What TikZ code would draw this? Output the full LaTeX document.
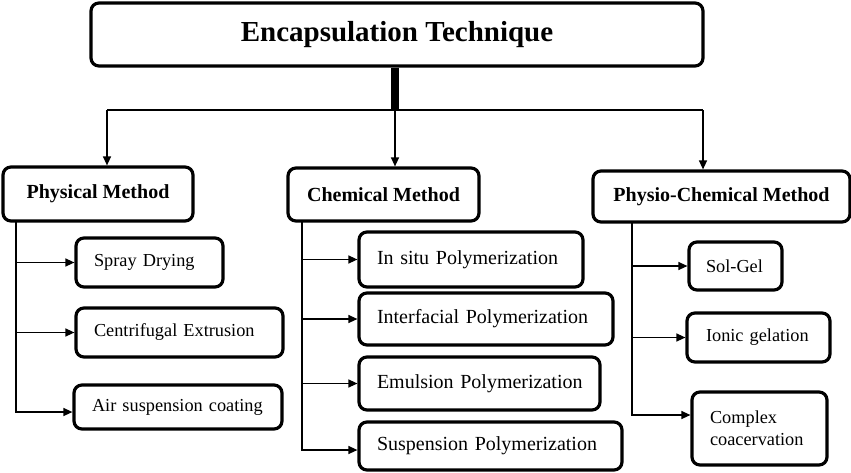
\documentclass[tikz,border=0pt]{standalone}
\usepackage{fontspec}
\setmainfont{Liberation Serif}
\usetikzlibrary{arrows.meta}
\begin{document}
\begin{tikzpicture}[x=1pt,y=-1pt,
  box/.style={draw, line width=3.2pt, rounded corners=8pt, inner sep=0pt},
  titlebox/.style={box, font=\fontsize{29}{33}\selectfont\bfseries},
  headbox/.style={box, font=\fontsize{20}{24}\selectfont\bfseries, align=center},
  subbox/.style={box, font=\fontsize{18.3}{22}\selectfont, align=left, inner xsep=18pt},
  chembox/.style={box, font=\fontsize{20}{24}\selectfont, align=left, inner xsep=18pt},
  conn/.style={line width=1.3pt},
  arr/.style={conn, -{Triangle[length=9pt,width=8pt]}}]
\useasboundingbox (0,0) rectangle (851,472);
\fill[white] (0,0) rectangle (851,472);

% title
\node[titlebox, minimum width=612pt, minimum height=63pt] (top) at (397,34.5) {Encapsulation Technique};

% headings
\node[headbox, minimum width=190pt, minimum height=54pt] (phys) at (98,194) {Physical Method};
\node[headbox, minimum width=191pt, minimum height=53pt] (chem) at (383.5,194.5) {Chemical Method};
\node[headbox, minimum width=257pt, minimum height=51pt] (physio) at (721.5,196.5) {Physio-Chemical Method};

% physical subs
\node[subbox, minimum width=147pt, minimum height=49pt, text width=111pt] (spray) at (149.5,262.5) {\mbox{Spray Drying}};
\node[subbox, minimum width=207pt, minimum height=49pt, text width=171pt] (centri) at (179.5,332.5) {\mbox{Centrifugal Extrusion}};
\node[subbox, minimum width=208pt, minimum height=44pt, text width=172pt] (air) at (178,407) {\mbox{Air suspension coating}};

% chemical subs
\node[chembox, minimum width=224pt, minimum height=55pt, text width=188pt] (insitu) at (471,259.5) {\mbox{In situ Polymerization}};
\node[chembox, minimum width=254pt, minimum height=52pt, text width=218pt] (interf) at (486,319) {\mbox{Interfacial Polymerization}};
\node[chembox, minimum width=241pt, minimum height=53pt, text width=205pt] (emul) at (479.5,383.5) {\mbox{Emulsion Polymerization}};
\node[chembox, minimum width=263pt, minimum height=48pt, text width=227pt] (susp) at (490.5,446) {\mbox{Suspension Polymerization}};

% physio-chemical subs
\node[subbox, inner xsep=17pt, minimum width=93pt, minimum height=48pt, text width=59pt] (solgel) at (735.5,266) {\mbox{Sol-Gel}};
\node[subbox, inner xsep=19pt, minimum width=143pt, minimum height=49pt, text width=105pt] (ionic) at (758.5,337.5) {\mbox{Ionic gelation}};
\node[subbox, minimum width=135pt, minimum height=73pt, text width=99pt] (complex) at (759.5,428.5) {\mbox{Complex}\\\mbox{coacervation}};

% trunk
\coordinate (hub) at (395,110);
\coordinate (hl) at (107,110);
\coordinate (hr) at (703,110);
\draw[line width=7.5pt] (top.south -| hub) -- (hub);
\draw[conn] (hl) -- (hr);
\draw[arr] (hl) -- (hl |- phys.north);
\draw[arr] (hub) -- (hub |- chem.north);
\draw[arr] (hr) -- (hr |- physio.north);

% physical branch
\coordinate (pv) at (16,221);
\draw[arr] (pv |- spray.west) -- (spray.west);
\draw[arr] (pv |- centri.west) -- (centri.west);
\draw[arr] (pv) |- ([yshift=-5pt]air.west);

% chemical branch
\coordinate (cv) at (302,221);
\draw[arr] (cv |- insitu.west) -- (insitu.west);
\draw[arr] (cv |- interf.west) -- (interf.west);
\draw[arr] (cv |- emul.west) -- (emul.west);
\draw[arr] (cv) |- ([yshift=-4pt]susp.west);

% physio-chemical branch
\coordinate (xv) at (632,222);
\draw[arr] (xv |- solgel.west) -- (solgel.west);
\draw[arr] (xv |- ionic.west) -- (ionic.west);
\draw[arr] (xv) |- ([yshift=13.5pt]complex.west);
\end{tikzpicture}
\end{document}
